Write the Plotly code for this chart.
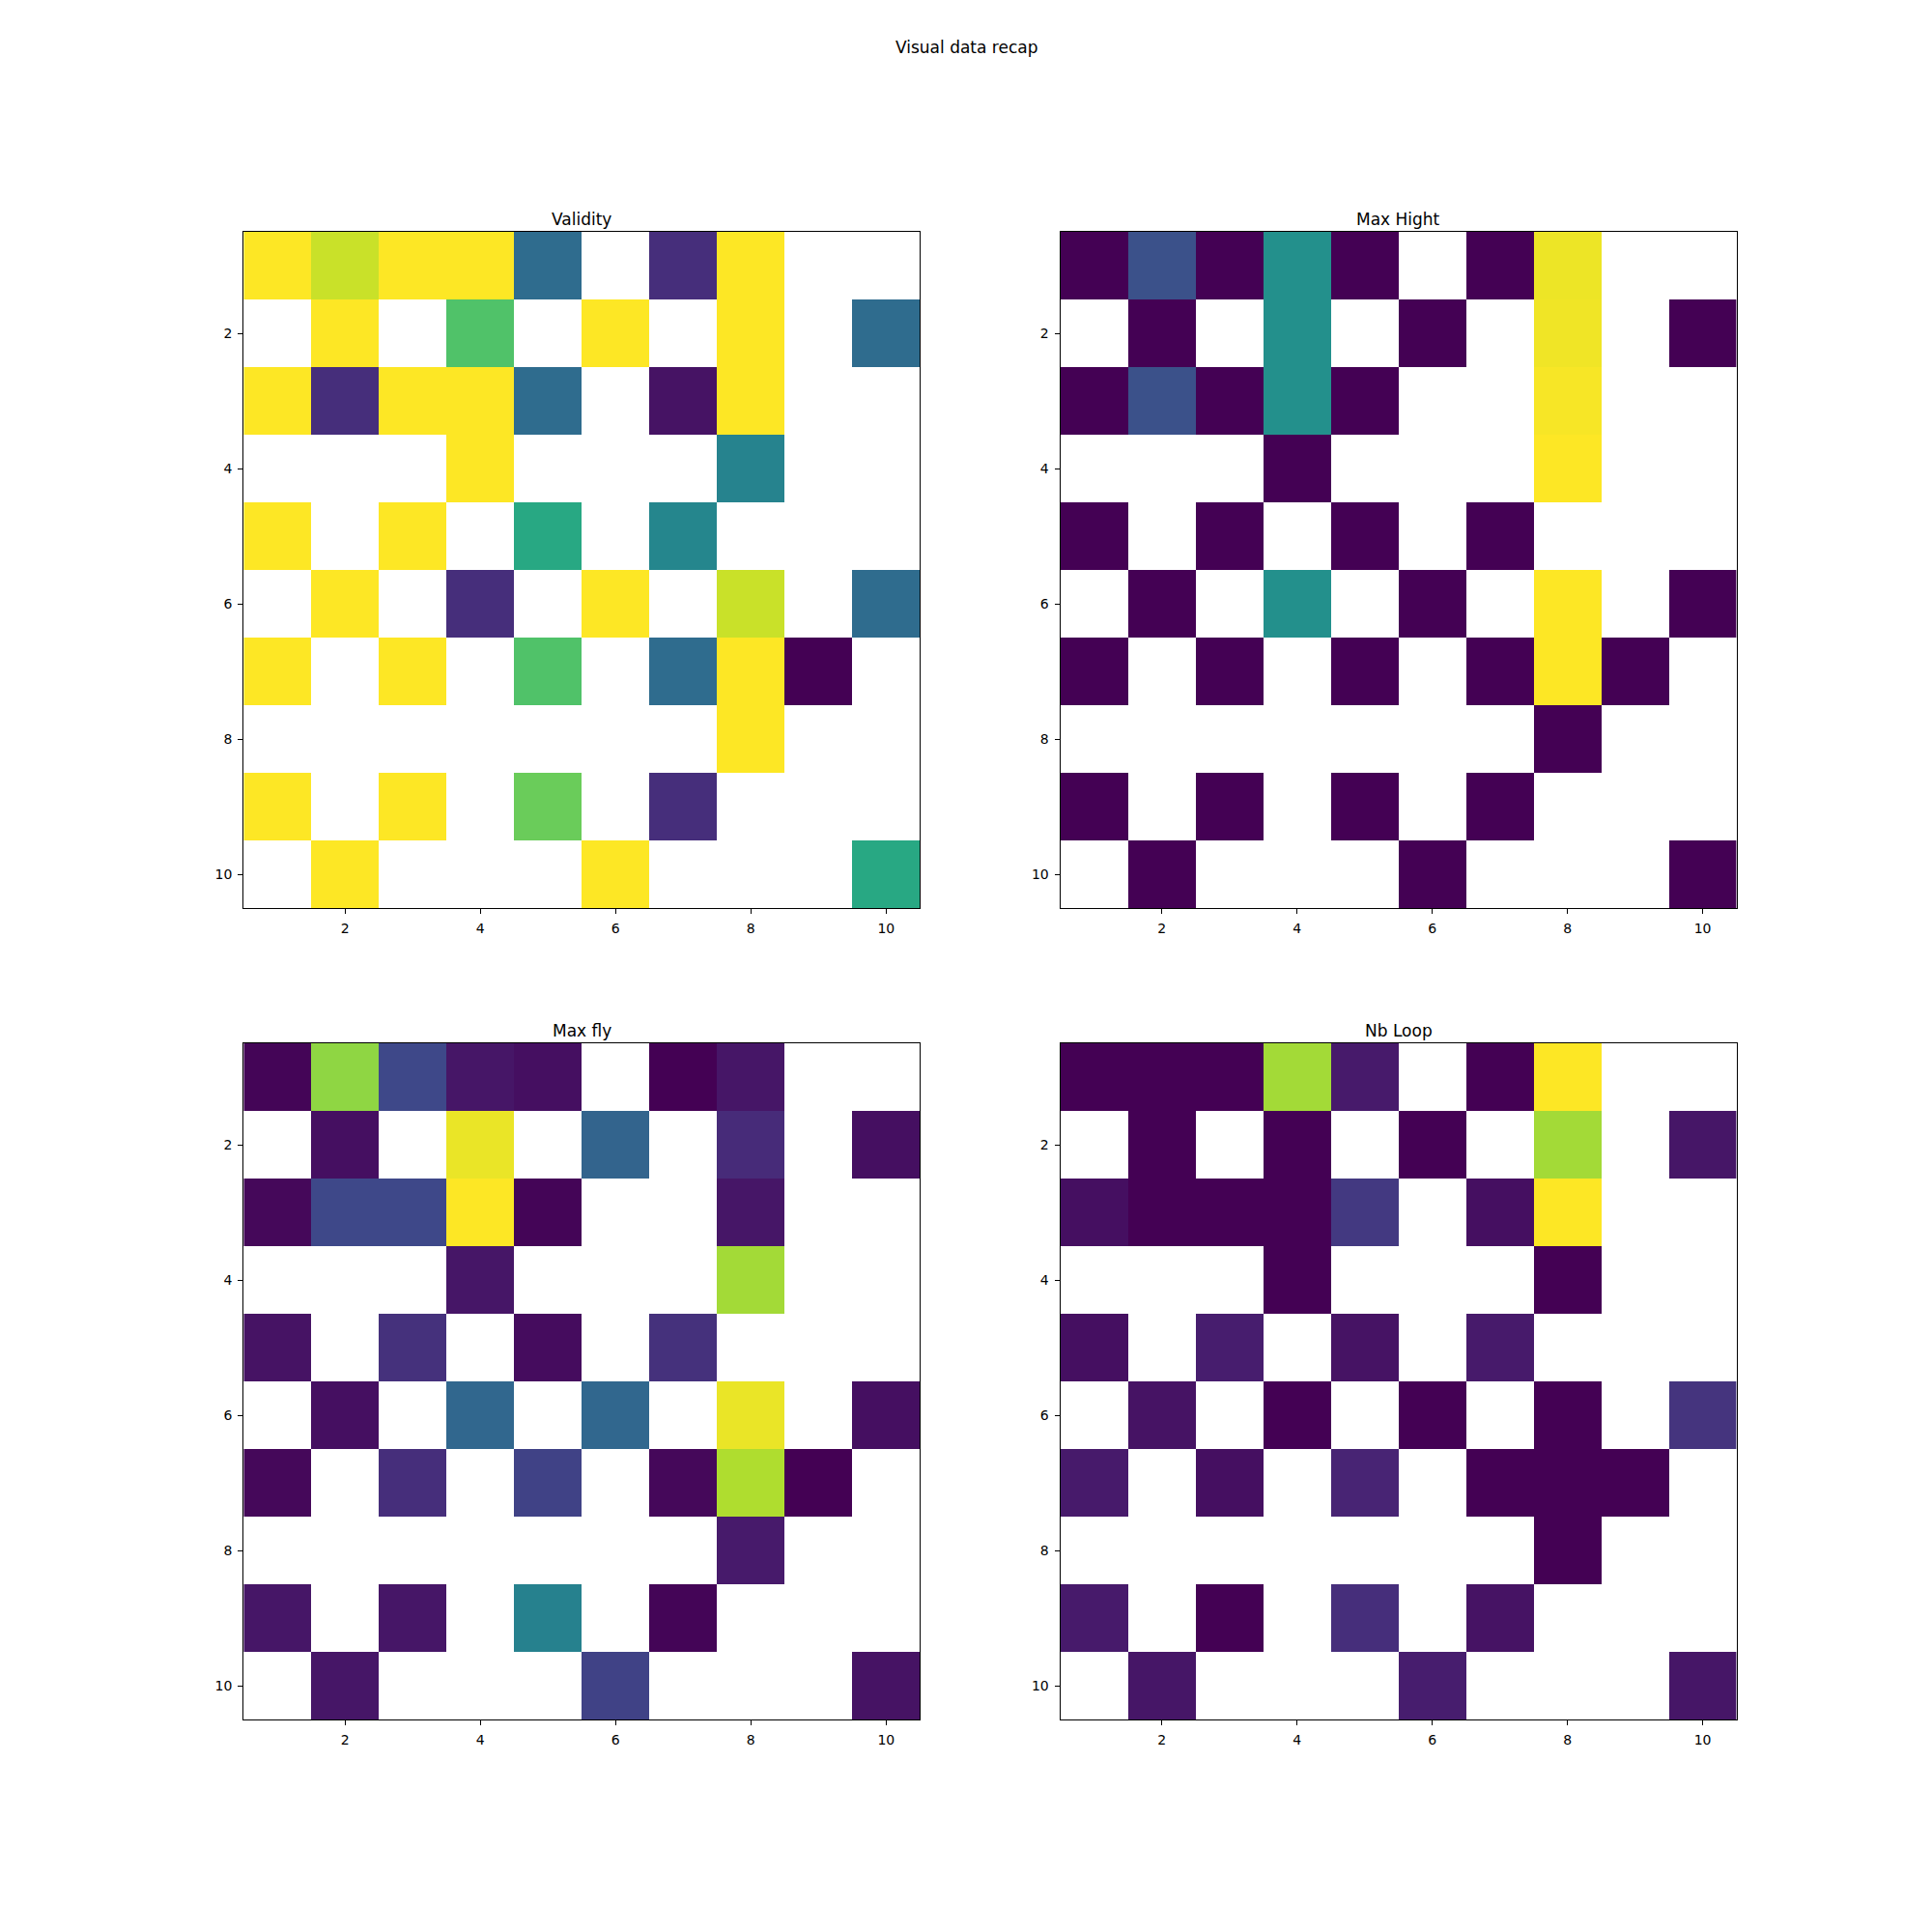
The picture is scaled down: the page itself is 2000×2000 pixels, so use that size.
import plotly.graph_objects as go

N = None
cols = list(range(1, 11))
rows = list(range(1, 11))
tick_vals = [2, 4, 6, 8, 10]
tick_text = ["2", "4", "6", "8", "10"]

suptitle = "Visual data recap"
titles = ["Validity", "Max Hight", "Max fly", "Nb Loop"]

validity = [
    [1.0, 0.92, 1.0, 1.0, 0.35, N, 0.13, 1.0, N, N],
    [N, 1.0, N, 0.72, N, 1.0, N, 1.0, N, 0.35],
    [1.0, 0.13, 1.0, 1.0, 0.35, N, 0.05, 1.0, N, N],
    [N, N, N, 1.0, N, N, N, 0.45, N, N],
    [1.0, N, 1.0, N, 0.6, N, 0.46, N, N, N],
    [N, 1.0, N, 0.13, N, 1.0, N, 0.92, N, 0.35],
    [1.0, N, 1.0, N, 0.72, N, 0.35, 1.0, 0.0, N],
    [N, N, N, N, N, N, N, 1.0, N, N],
    [1.0, N, 1.0, N, 0.77, N, 0.13, N, N, N],
    [N, 1.0, N, N, N, 1.0, N, N, N, 0.6],
]

max_hight = [
    [0.0, 0.25, 0.0, 0.5, 0.0, N, 0.0, 0.975, N, N],
    [N, 0.0, N, 0.5, N, 0.0, N, 0.98, N, 0.0],
    [0.0, 0.25, 0.0, 0.5, 0.0, N, N, 0.99, N, N],
    [N, N, N, 0.0, N, N, N, 1.0, N, N],
    [0.0, N, 0.0, N, 0.0, N, 0.0, N, N, N],
    [N, 0.0, N, 0.5, N, 0.0, N, 1.0, N, 0.0],
    [0.0, N, 0.0, N, 0.0, N, 0.0, 1.0, 0.0, N],
    [N, N, N, N, N, N, N, 0.0, N, N],
    [0.0, N, 0.0, N, 0.0, N, 0.0, N, N, N],
    [N, 0.0, N, N, N, 0.0, N, N, N, 0.0],
]

max_fly = [
    [0.01, 0.83, 0.22, 0.06, 0.04, N, 0.0, 0.06, N, N],
    [N, 0.04, N, 0.97, N, 0.32, N, 0.12, N, 0.04],
    [0.02, 0.22, 0.22, 1.0, 0.01, N, N, 0.06, N, N],
    [N, N, N, 0.06, N, N, N, 0.86, N, N],
    [0.05, N, 0.14, N, 0.03, N, 0.14, N, N, N],
    [N, 0.04, N, 0.33, N, 0.33, N, 0.97, N, 0.04],
    [0.02, N, 0.13, N, 0.2, N, 0.02, 0.88, 0.0, N],
    [N, N, N, N, N, N, N, 0.07, N, N],
    [0.06, N, 0.06, N, 0.44, N, 0.01, N, N, N],
    [N, 0.06, N, N, N, 0.2, N, N, N, 0.05],
]

nb_loop = [
    [0.0, 0.0, 0.0, 0.86, 0.07, N, 0.0, 1.0, N, N],
    [N, 0.0, N, 0.0, N, 0.0, N, 0.86, N, 0.06],
    [0.04, 0.0, 0.0, 0.0, 0.17, N, 0.04, 1.0, N, N],
    [N, N, N, 0.0, N, N, N, 0.0, N, N],
    [0.04, N, 0.08, N, 0.05, N, 0.07, N, N, N],
    [N, 0.05, N, 0.0, N, 0.0, N, 0.0, N, 0.15],
    [0.07, N, 0.04, N, 0.1, N, 0.0, 0.0, 0.0, N],
    [N, N, N, N, N, N, N, 0.0, N, N],
    [0.07, N, 0.0, N, 0.13, N, 0.05, N, N, N],
    [N, 0.06, N, N, N, 0.08, N, N, N, 0.06],
]

datasets = [validity, max_hight, max_fly, nb_loop]

W = 2000.0
x_domains = [[252.3 / W, 952.3 / W], [1097.6 / W, 1797.6 / W]]
y_domains = [[1 - 940 / W, 1 - 240 / W], [1 - 1780 / W, 1 - 1080 / W]]

FONT = "DejaVu Sans"
fig = go.Figure()
annotations = []
for i, z in enumerate(datasets):
    r, c = divmod(i, 2)
    xa = "x" if i == 0 else f"x{i+1}"
    ya = "y" if i == 0 else f"y{i+1}"
    fig.add_trace(go.Heatmap(
        z=z, x=cols, y=rows, colorscale="Viridis", zmin=0, zmax=1,
        showscale=False, xaxis=xa, yaxis=ya, hoverongaps=False,
    ))
    axis_common = dict(
        showgrid=False, zeroline=False, showline=True, mirror=True,
        linecolor="black", linewidth=1.1, ticks="outside", ticklen=5,
        tickwidth=1.1, tickcolor="black", tickvals=tick_vals, ticktext=tick_text,
        ticklabelstandoff=3,
        tickfont=dict(family=FONT, size=14, color="black"),
    )
    xkey = "xaxis" if i == 0 else f"xaxis{i+1}"
    ykey = "yaxis" if i == 0 else f"yaxis{i+1}"
    fig.update_layout(**{
        xkey: dict(domain=x_domains[c], range=[0.5, 10.5], anchor=ya, **axis_common),
        ykey: dict(domain=y_domains[r], range=[10.5, 0.5], anchor=xa, **axis_common),
    })
    annotations.append(dict(
        text=titles[i], xref="paper", yref="paper",
        x=(x_domains[c][0] + x_domains[c][1]) / 2, y=y_domains[r][1],
        xanchor="center", yanchor="bottom", yshift=1, showarrow=False,
        font=dict(family=FONT, size=17, color="black"),
    ))

annotations.append(dict(
    text=suptitle, xref="paper", yref="paper", x=0.5, y=1 - 37 / W,
    xanchor="center", yanchor="top", showarrow=False,
    font=dict(family=FONT, size=17, color="black"),
))

fig.update_layout(
    width=2000, height=2000, margin=dict(l=0, r=0, t=0, b=0),
    paper_bgcolor="white", plot_bgcolor="white", annotations=annotations,
    showlegend=False,
)

fig.write_html("out.html")
